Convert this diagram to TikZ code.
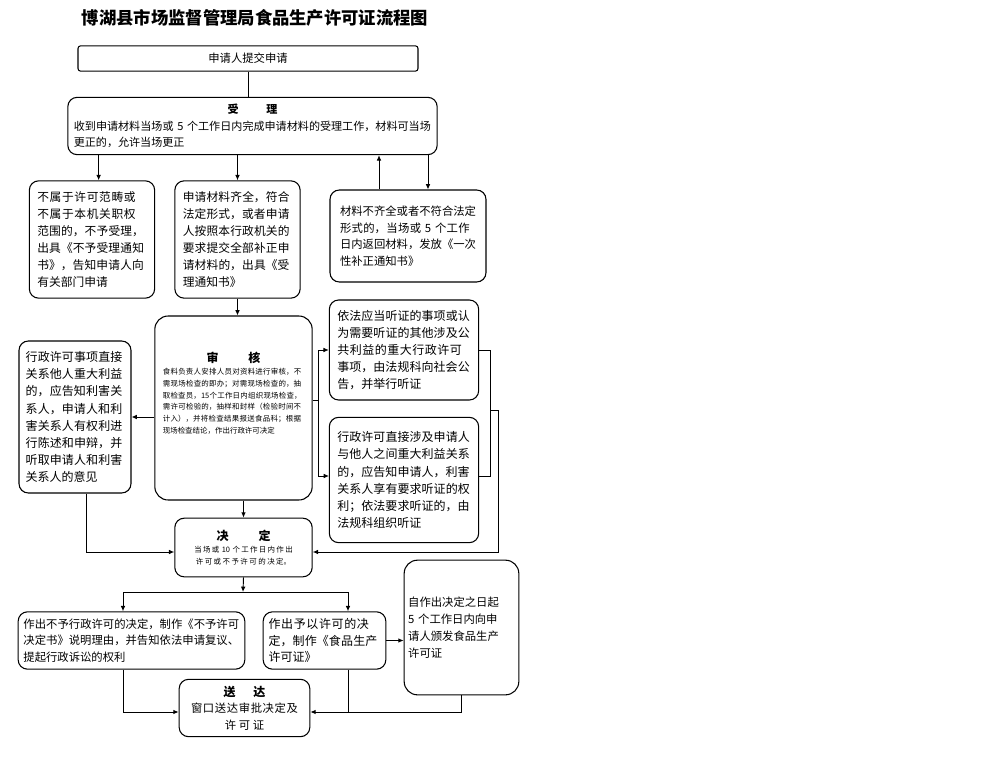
\documentclass[tikz,border=0pt]{standalone}
\usepackage{fontspec}
\setmainfont{Noto Sans CJK SC}
\XeTeXlinebreaklocale "zh"
\XeTeXlinebreakskip=0pt plus 1pt
\usetikzlibrary{arrows.meta}
\tikzset{
  flowbox/.style={draw, rounded corners=7pt, line width=0.8pt, inner sep=3pt},
  myarrow/.style={-{Latex[length=4pt,width=3.5pt]}, line width=0.7pt},
  myline/.style={line width=0.7pt},
}
\begin{document}
\begin{tikzpicture}[x=0.75pt, y=-0.75pt]
  \useasboundingbox (0,0) rectangle (1000,760);
  \node[font=\fontsize{13}{15}\selectfont\bfseries] (title) at (255,18) {博湖县市场监督管理局食品生产许可证流程图};
  % top row
  \node[flowbox, rounded corners=2pt, minimum width=255pt, minimum height=19pt, font=\fontsize{8.5}{10}\selectfont] (submit) at (248,58.5) {申请人提交申请};
  \node[flowbox, minimum width=277pt, minimum height=43pt, text width=268pt, align=left, font=\fontsize{8.3}{12.5}\selectfont] (accept) at (252.5,126)
    {\hfill\textbf{受\hspace{2.5em}理}\hfill\null\\收到申请材料当场或~5~个工作日内完成申请材料的受理工作，材料可当场更正的，允许当场更正};
  \draw[myline] (submit.south) -- (submit.south |- accept.north);
  % second row
  \node[flowbox, minimum width=94pt, minimum height=88pt, text width=82pt, align=left, font=\fontsize{8.8}{12.8}\selectfont] (reject) at (92,239.5)
    {不属于许可范畴或不属于本机关职权范围的，不予受理，出具《不予受理通知书》，告知申请人向有关部门申请};
  \node[flowbox, minimum width=94pt, minimum height=88pt, text width=82pt, align=left, font=\fontsize{8.8}{12.8}\selectfont] (complete) at (237.5,239.5)
    {申请材料齐全，符合法定形式，或者申请人按照本行政机关的要求提交全部补正申请材料的，出具《受理通知书》};
  \node[flowbox, minimum width=117pt, minimum height=69pt, text width=102pt, align=left, font=\fontsize{8.5}{12.5}\selectfont] (incomplete) at (408,236)
    {材料不齐全或者不符合法定形式的，当场或~5~个工作日内返回材料，发放《一次性补正通知书》};
  \draw[myarrow] ([xshift=5pt]accept.south -| reject.north) -- ([xshift=5pt]reject.north);
  \draw[myarrow] (accept.south -| complete.north) -- (complete.north);
  \coordinate (upx) at (379,0);
  \coordinate (dnx) at (428,0);
  \draw[myarrow] (incomplete.north -| upx) -- (accept.south -| upx);
  \draw[myarrow] (accept.south -| dnx) -- (incomplete.north -| dnx);
  % review
  \node[flowbox, rounded corners=10pt, minimum width=118pt, minimum height=138pt, text width=106pt, align=left, font=\fontsize{5.6}{8.8}\selectfont] (review) at (233.5,408)
    {\hfill{\fontsize{9}{12}\selectfont\textbf{审\hspace{2.5em}核}}\hfill\null\\食料负责人安排人员对资料进行审核，不需现场检查的即办；对需现场检查的，抽取检查员，15个工作日内组织现场检查，需许可检验的，抽样和封样（检验时间不计入），并将检查结果报送食品科；根据现场检查结论，作出行政许可决定\\[14pt]\null};
  \draw[myarrow] (complete.south) -- (complete.south |- review.north);
  \node[flowbox, minimum width=84pt, minimum height=114pt, text width=74pt, align=left, font=\fontsize{9}{12.8}\selectfont] (inform) at (75,417)
    {行政许可事项直接关系他人重大利益的，应告知利害关系人，申请人和利害关系人有权利进行陈述和申辩，并听取申请人和利害关系人的意见};
  \draw[myarrow] (review.west |- inform.east) -- (inform.east);
  \node[flowbox, minimum width=112pt, minimum height=75pt, text width=100pt, align=left, font=\fontsize{9}{12.8}\selectfont] (public) at (404,350)
    {依法应当听证的事项或认为需要听证的其他涉及公共利益的重大行政许可事项，由法规科向社会公告，并举行听证};
  \node[flowbox, minimum width=112pt, minimum height=94pt, text width=100pt, align=left, font=\fontsize{9}{12.8}\selectfont] (hearing) at (404,480)
    {行政许可直接涉及申请人与他人之间重大利益关系的，应告知申请人，利害关系人享有要求听证的权利；依法要求听证的，由法规科组织听证};
  \coordinate (split) at (318,400);
  \coordinate (hin) at (329,476);
  \coordinate (hout) at (479,476);
  \draw[myline] (review.east |- split) -- (split);
  \draw[myarrow] (split) |- (public.west);
  \draw[myarrow] (split) |- (hin);
  % decision
  \node[flowbox, minimum width=103pt, minimum height=44pt, text width=96pt, align=center, font=\fontsize{5.6}{9}\selectfont] (decide) at (243.5,547.5)
    {{\fontsize{9}{12}\selectfont\textbf{决\hspace{2.5em}定}}\\当场或~10~个工作日内作出许可或不予许可的决定。};
  \draw[myarrow] (review.south -| decide.north) -- (decide.north);
  \coordinate (rjoin) at (490,410);
  \coordinate (rout) at (498,552);
  \draw[myline] (public.east) -| (rjoin |- hout) -- (hout);
  \draw[myline] (rjoin) -- (rjoin -| rout);
  \draw[myarrow] (rjoin -| rout) -- (rout) -- (rout -| decide.east);
  \coordinate (ldown) at (86,552);
  \draw[myarrow] (ldown |- inform.south) -- (ldown) -- (ldown -| decide.west);
  % results
  \node[flowbox, minimum width=170pt, minimum height=43pt, text width=162pt, align=left, font=\fontsize{8.5}{12.3}\selectfont] (deny) at (131.5,640.5)
    {作出不予行政许可的决定，制作《不予许可决定书》说明理由，并告知依法申请复议、提起行政诉讼的权利};
  \node[flowbox, minimum width=92pt, minimum height=43pt, text width=84pt, align=left, font=\fontsize{9}{12.3}\selectfont] (grant) at (324.5,640.5)
    {作出予以许可的决定，制作《食品生产许可证》};
  \node[flowbox, rounded corners=10pt, minimum width=85pt, minimum height=101pt, text width=80pt, align=left, font=\fontsize{8.5}{12.8}\selectfont] (issue) at (461.5,627.5)
    {自作出决定之日起\\5~个工作日内向申\\请人颁发食品生产\\许可证};
  \coordinate (fork) at (243,592);
  \coordinate (dx) at (123,0);
  \coordinate (gx) at (348,0);
  \draw[myarrow] (decide.south) -- (fork);
  \draw[myarrow] (fork) -| (deny.north -| dx);
  \draw[myarrow] (fork) -| (grant.north -| gx);
  \draw[myarrow] (grant.east) -- (issue.west |- grant.east);
  % delivery
  \node[flowbox, minimum width=98pt, minimum height=43pt, text width=96pt, inner sep=1pt, align=center, font=\fontsize{8.5}{12.3}\selectfont] (deliver) at (244.5,708)
    {{\fontsize{9}{12}\selectfont\textbf{送\hspace{1.5em}达}}\\窗口送达审批决定及\\许可证};
  \coordinate (bot) at (0,712);
  \draw[myarrow] (deny.south -| dx) |- (deliver.west |- bot);
  \draw[myline] (grant.south -| gx) -- (gx |- bot);
  \draw[myarrow] (issue.south) |- (deliver.east |- bot);
\end{tikzpicture}
\end{document}
